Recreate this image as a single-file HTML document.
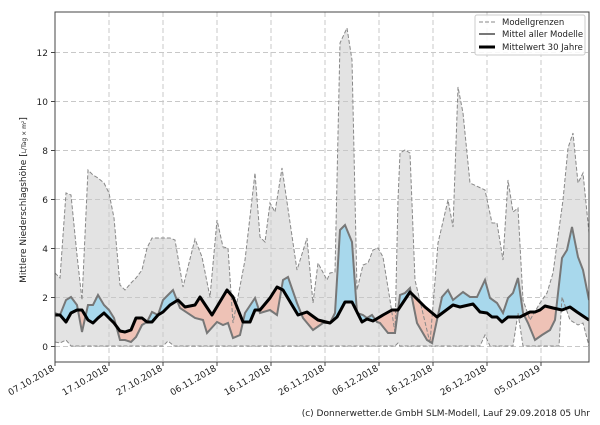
<!DOCTYPE html>
<html><head><meta charset="utf-8"><style>
body{margin:0;background:#fff;}
svg text{font-family:"DejaVu Sans","Liberation Sans",sans-serif;fill:#222;}
</style></head><body>
<svg width="600" height="420" viewBox="0 0 600 420" xmlns="http://www.w3.org/2000/svg">
<defs>
<clipPath id="plot"><rect x="55" y="12" width="534" height="350"/></clipPath>
<clipPath id="aboveBlack"><polygon id="cpA"/></clipPath>
<clipPath id="belowBlack"><polygon id="cpB"/></clipPath>
</defs>
<rect x="55" y="12" width="534" height="350" fill="#fff"/>
<g clip-path="url(#plot)">
<polygon id="env" fill="#e3e3e3"/>
<g stroke="#c8c8c8" stroke-width="1" stroke-dasharray="5,3">
<line x1="55" y1="346.5" x2="589" y2="346.5"/><line x1="55" y1="297.5" x2="589" y2="297.5"/><line x1="55" y1="248.5" x2="589" y2="248.5"/><line x1="55" y1="199.5" x2="589" y2="199.5"/><line x1="55" y1="150.5" x2="589" y2="150.5"/><line x1="55" y1="101.5" x2="589" y2="101.5"/><line x1="55" y1="52.5" x2="589" y2="52.5"/>
<line x1="109" y1="12" x2="109" y2="362"/><line x1="163" y1="12" x2="163" y2="362"/><line x1="217" y1="12" x2="217" y2="362"/><line x1="271" y1="12" x2="271" y2="362"/><line x1="325" y1="12" x2="325" y2="362"/><line x1="379" y1="12" x2="379" y2="362"/><line x1="433" y1="12" x2="433" y2="362"/><line x1="487" y1="12" x2="487" y2="362"/><line x1="541" y1="12" x2="541" y2="362"/>
</g>
<polygon id="blue" clip-path="url(#aboveBlack)" fill="#a8d8ec"/>
<polygon id="red" clip-path="url(#belowBlack)" fill="#eec2b6"/>
<polyline id="up" fill="none" stroke="#888" stroke-width="1" stroke-dasharray="4,2"/>
<polyline id="lo" fill="none" stroke="#888" stroke-width="1" stroke-dasharray="4,2"/>
<polyline id="mean" fill="none" stroke="#777" stroke-width="2"/>
<polyline id="blk" fill="none" stroke="#000" stroke-width="3" stroke-linejoin="round"/>
</g>
<rect x="55" y="12" width="534" height="350" fill="none" stroke="#444" stroke-width="1"/>
<g stroke="#444"><line x1="51" y1="346.5" x2="55" y2="346.5"/><line x1="51" y1="297.5" x2="55" y2="297.5"/><line x1="51" y1="248.5" x2="55" y2="248.5"/><line x1="51" y1="199.5" x2="55" y2="199.5"/><line x1="51" y1="150.5" x2="55" y2="150.5"/><line x1="51" y1="101.5" x2="55" y2="101.5"/><line x1="51" y1="52.5" x2="55" y2="52.5"/>
<line x1="55" y1="362" x2="55" y2="366"/><line x1="109" y1="362" x2="109" y2="366"/><line x1="163" y1="362" x2="163" y2="366"/><line x1="217" y1="362" x2="217" y2="366"/><line x1="271" y1="362" x2="271" y2="366"/><line x1="325" y1="362" x2="325" y2="366"/><line x1="379" y1="362" x2="379" y2="366"/><line x1="433" y1="362" x2="433" y2="366"/><line x1="487" y1="362" x2="487" y2="366"/><line x1="541" y1="362" x2="541" y2="366"/></g>
<g font-size="9" text-anchor="end">
<text x="48" y="350">0</text><text x="48" y="301">2</text><text x="48" y="252">4</text><text x="48" y="203">6</text><text x="48" y="154">8</text><text x="48" y="105">10</text><text x="48" y="56">12</text>
</g>
<g font-size="9" text-anchor="end">
<text transform="translate(55,370) rotate(-30)">07.10.2018</text>
<text transform="translate(109,370) rotate(-30)">17.10.2018</text>
<text transform="translate(163,370) rotate(-30)">27.10.2018</text>
<text transform="translate(217,370) rotate(-30)">06.11.2018</text>
<text transform="translate(271,370) rotate(-30)">16.11.2018</text>
<text transform="translate(325,370) rotate(-30)">26.11.2018</text>
<text transform="translate(379,370) rotate(-30)">06.12.2018</text>
<text transform="translate(433,370) rotate(-30)">16.12.2018</text>
<text transform="translate(487,370) rotate(-30)">26.12.2018</text>
<text transform="translate(541,370) rotate(-30)">05.01.2019</text>
</g>
<text font-size="9" text-anchor="middle" transform="translate(26,200) rotate(-90)">Mittlere Niederschlagshöhe [<tspan font-size="6">L/Tag × m²</tspan>]</text>
<rect x="475" y="15" width="110" height="40" fill="#fff" fill-opacity="0.85" stroke="#ccc" rx="2"/>
<line x1="479" y1="22" x2="495" y2="22" stroke="#888" stroke-dasharray="4,2"/>
<line x1="479" y1="34" x2="495" y2="34" stroke="#777" stroke-width="2"/>
<line x1="479" y1="47" x2="495" y2="47" stroke="#000" stroke-width="3"/>
<g font-size="8.5"><text x="502" y="25">Modellgrenzen</text><text x="502" y="37">Mittel aller Modelle</text><text x="502" y="50">Mittelwert 30 Jahre</text></g>
<text x="590" y="416" font-size="9" text-anchor="end">(c) Donnerwetter.de GmbH SLM-Modell, Lauf 29.09.2018 05 Uhr</text>
</svg>
<script>
var UP="55,273 60,278 66,193 71,195 77,255 82,300 88,170 93,175 98,178 104,183 109,193 114,218 120,285 125,290 131,283 136,278 142,270 147,248 152,238 158,238 163,238 170,238 175,240 183,287 195,239 202,257 210,297 217,220 223,247 228,248 233,323 245,260 255,173 260,237 265,242 270,203 275,212 282,168 297,270 307,238 313,303 318,263 327,280 330,273 335,272 340,43 347,28 352,60 357,290 363,265 368,263 373,250 378,248 383,257 390,300 395,333 398,200 400,153 405,150 410,153 415,280 430,343 438,243 448,200 453,227 458,87 463,113 470,183 485,190 492,223 497,223 503,260 508,180 513,212 518,208 523,300 530,320 540,303 547,293 553,273 563,200 568,148 573,133 578,183 583,173 589,233";
var LO="55,342 60,343 66,340 71,346 163,346 168,341 174,346 395,346 398,343 400,346 480,346 485,335 490,346 513,346 518,313 523,346 559,346 562,297 570,320 578,325 583,323 589,346";
var MEAN="55,313 60,315 66,300 71,297 77,305 82,332 88,305 93,305 98,295 104,305 109,310 114,318 120,340 125,340 131,342 136,337 142,325 147,322 152,312 158,315 163,300 168,295 173,290 180,308 195,318 203,320 207,333 217,322 223,325 228,323 233,338 240,335 245,313 255,298 260,313 270,310 277,315 283,280 288,277 297,303 303,318 313,330 323,323 330,323 335,313 340,230 345,225 352,242 357,313 363,315 367,318 372,315 377,322 380,323 388,333 395,333 400,295 405,293 410,288 417,323 427,340 432,343 442,297 448,290 453,300 463,292 470,297 477,297 485,280 490,298 497,303 503,313 508,298 513,293 518,278 523,313 528,323 535,340 542,335 550,330 555,320 562,258 567,250 572,227 578,257 583,270 589,300";
var BLK="55,315 60,315 66,322 71,313 77,310 82,310 88,320 93,323 98,318 104,313 109,318 114,323 120,331 125,332 131,330 136,318 142,318 147,322 152,322 158,315 163,312 168,307 170,305 178,300 185,307 195,305 200,297 212,315 227,290 233,297 243,322 250,322 255,310 260,310 270,298 277,287 283,290 298,315 307,312 318,320 330,323 337,317 345,302 352,302 362,322 367,319 373,321 383,315 392,310 398,310 410,292 425,307 437,317 453,305 460,307 473,304 480,312 487,313 492,317 497,317 502,322 508,317 520,317 530,312 535,312 540,310 545,306 553,308 562,310 570,307 577,312 589,320";
function s(id,p){document.getElementById(id).setAttribute("points",p);}
var loRev=LO.split(" ").reverse().join(" ");
s("env",UP+" "+loRev);
s("up",UP);s("lo",LO);s("mean",MEAN);s("blk",BLK);
s("cpA","55,0 "+BLK+" 589,0");
s("cpB","55,420 "+BLK+" 589,420");
s("blue","55,420 "+MEAN+" 589,420");
s("red","55,0 "+MEAN+" 589,0");
</script>
</body></html>
